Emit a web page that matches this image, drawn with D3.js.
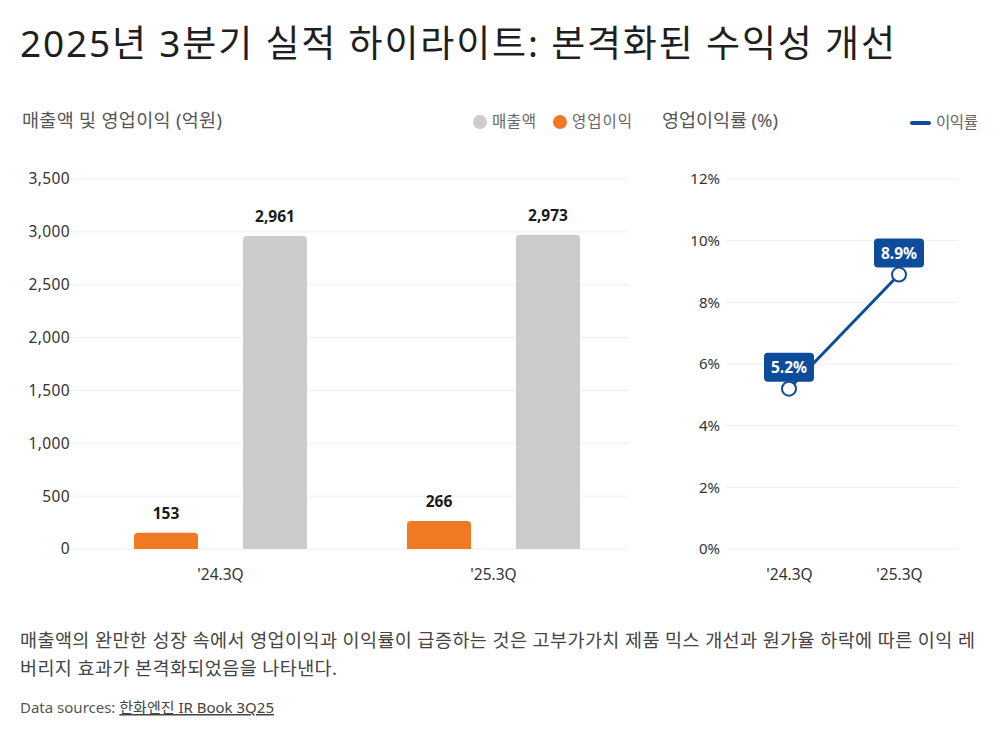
<!DOCTYPE html>
<html><head><meta charset="utf-8">
<script src="https://cdn.jsdelivr.net/npm/d3@7"></script>
<style>
body{margin:0;background:#fff;}
svg{display:block;font-family:'Noto Sans','Noto Sans CJK KR',sans-serif;}
</style></head>
<body><svg id="c" width="1000" height="750"></svg>
<script>
const categories = ["'24.3Q", "'25.3Q"];
const revenue = [2961, 2973];
const operatingProfit = [153, 266];
const margin = [5.2, 8.9];
const barTicks = [0, 500, 1000, 1500, 2000, 2500, 3000, 3500];
const marginTicks = [0, 2, 4, 6, 8, 10, 12];
const seriesNames = ["매출액", "영업이익", "이익률"];
const title = "2025년 3분기 실적 하이라이트: 본격화된 수익성 개선";
const leftTitle = "매출액 및 영업이익 (억원)";
const rightTitle = "영업이익률 (%)";
const noteLines = ["매출액의 완만한 성장 속에서 영업이익과 이익률이 급증하는 것은 고부가가치 제품 믹스 개선과 원가율 하락에 따른 이익 레",
                   "버리지 효과가 본격화되었음을 나타낸다."];
const sourceLabel = "Data sources: ";
const sourceLink = "한화엔진 IR Book 3Q25";

const svg = d3.select("#c");
const FONT = "'Noto Sans','Noto Sans CJK KR',sans-serif";
const ORANGE = "#f07a22", GRAY = "#cccccc", BLUE = "#0d4c9b";

svg.append("text").attr("x", 20).attr("y", 57).attr("font-size", 37).attr("fill", "#1f1f1f")
  .attr("textLength", 875).attr("lengthAdjust", "spacing")
  .text(title);

// ---------- Left chart ----------
const y = d3.scaleLinear().domain([0, 3500]).range([549, 179]);
const x = d3.scaleBand().domain(categories).range([84, 630]).padding(0);
svg.append("g").selectAll("line").data(barTicks).join("line")
  .attr("x1", 62).attr("x2", 628).attr("y1", d => y(d)).attr("y2", d => y(d))
  .attr("stroke", "#eeeeee").attr("stroke-width", 1);
const axL = svg.append("g").attr("transform", "translate(70,0)")
  .call(d3.axisLeft(y).tickValues(barTicks).tickFormat(d3.format(",")).tickSize(0).tickPadding(0));
axL.select(".domain").remove();
axL.selectAll("text").attr("font-size", 15.5).attr("letter-spacing", 0.4).attr("fill", "#333").attr("font-family", FONT);

function topRounded(x0, y0, w, h, r) {
  r = Math.min(r, h, w / 2);
  return `M${x0},${y0 + h}V${y0 + r}Q${x0},${y0} ${x0 + r},${y0}H${x0 + w - r}Q${x0 + w},${y0} ${x0 + w},${y0 + r}V${y0 + h}Z`;
}
const barData = [];
categories.forEach((c, i) => {
  barData.push({ c, key: "op", v: operatingProfit[i], color: ORANGE });
  barData.push({ c, key: "rev", v: revenue[i], color: GRAY });
});
const bw = 64;
const bx = d => x(d.c) + x.bandwidth() / 2 + (d.key === "op" ? -54.5 : 54.5);
svg.append("g").selectAll("path").data(barData).join("path")
  .attr("d", d => topRounded(bx(d) - bw / 2, y(d.v), bw, y(0) - y(d.v), 4))
  .attr("fill", d => d.color);
svg.append("g").selectAll("text").data(barData).join("text")
  .attr("x", bx)
  .attr("y", d => y(d.v) - 14)
  .attr("text-anchor", "middle").attr("font-size", 15.5).attr("font-weight", "bold").attr("fill", "#1a1a1a")
  .text(d => d3.format(",")(d.v));
const axB = svg.append("g").attr("transform", "translate(0,549)")
  .call(d3.axisBottom(x).tickSize(0).tickPadding(0));
axB.select(".domain").remove();
axB.selectAll("text").attr("dy", null).attr("y", 31).attr("font-size", 15.5).attr("fill", "#333").attr("font-family", FONT);

svg.append("text").attr("x", 22).attr("y", 127).attr("font-size", 18.5).attr("fill", "#555")
  .attr("textLength", 200).attr("lengthAdjust", "spacing").text(leftTitle);
const leg = [{ n: seriesNames[0], c: GRAY, x: 480, w: 44 }, { n: seriesNames[1], c: ORANGE, x: 560, w: 60 }];
leg.forEach(l => {
  svg.append("circle").attr("cx", l.x).attr("cy", 122).attr("r", 7).attr("fill", l.c);
  svg.append("text").attr("x", l.x + 12).attr("y", 127).attr("font-size", 15.5).attr("fill", "#666")
    .attr("textLength", l.w).attr("lengthAdjust", "spacing").text(l.n);
});

// ---------- Right chart ----------
const y2 = d3.scaleLinear().domain([0, 12]).range([549, 179]);
const x2 = d3.scalePoint().domain(categories).range([789, 899]);
svg.append("g").selectAll("line").data(marginTicks).join("line")
  .attr("x1", 725).attr("x2", 958).attr("y1", d => y2(d)).attr("y2", d => y2(d))
  .attr("stroke", "#eeeeee");
const axR = svg.append("g").attr("transform", "translate(720,0)")
  .call(d3.axisLeft(y2).tickValues(marginTicks).tickFormat(d => d + "%").tickSize(0).tickPadding(0));
axR.select(".domain").remove();
axR.selectAll("text").attr("font-size", 15).attr("fill", "#333").attr("font-family", FONT);
const axB2 = svg.append("g").attr("transform", "translate(0,549)")
  .call(d3.axisBottom(x2).tickSize(0).tickPadding(0));
axB2.select(".domain").remove();
axB2.selectAll("text").attr("dy", null).attr("y", 31).attr("font-size", 15.5).attr("fill", "#333").attr("font-family", FONT);

const pts = categories.map((c, i) => ({ c, v: margin[i] }));
svg.append("path").datum(pts)
  .attr("d", d3.line().x(d => x2(d.c)).y(d => y2(d.v)))
  .attr("fill", "none").attr("stroke", BLUE).attr("stroke-width", 3);
svg.append("g").selectAll("circle").data(pts).join("circle")
  .attr("cx", d => x2(d.c)).attr("cy", d => y2(d.v)).attr("r", 7)
  .attr("fill", "#fff").attr("stroke", BLUE).attr("stroke-width", 2);
const lab = svg.append("g").selectAll("g").data(pts).join("g")
  .attr("transform", d => `translate(${x2(d.c)},${y2(d.v) - 7})`);
lab.append("rect").attr("x", -25).attr("y", -29).attr("width", 50).attr("height", 29).attr("rx", 4)
  .attr("fill", BLUE);
lab.append("text").attr("x", 0).attr("y", -9).attr("text-anchor", "middle")
  .attr("font-size", 15.5).attr("font-weight", "bold").attr("fill", "#fff").text(d => d.v.toFixed(1) + "%");

svg.append("text").attr("x", 662).attr("y", 127).attr("font-size", 18.5).attr("fill", "#555")
  .attr("textLength", 116).attr("lengthAdjust", "spacing").text(rightTitle);
svg.append("line").attr("x1", 912).attr("x2", 929).attr("y1", 123).attr("y2", 123)
  .attr("stroke", BLUE).attr("stroke-width", 4).attr("stroke-linecap", "round");
svg.append("text").attr("x", 936).attr("y", 128).attr("font-size", 15.5).attr("fill", "#666")
  .attr("textLength", 42).attr("lengthAdjust", "spacing").text(seriesNames[2]);

// ---------- Notes ----------
const noteW = [955, 317];
svg.append("g").selectAll("text").data(noteLines).join("text")
  .attr("x", 20).attr("y", (d, i) => 647 + i * 28).attr("font-size", 18.5).attr("fill", "#444")
  .attr("textLength", (d, i) => noteW[i]).attr("lengthAdjust", "spacing").text(d => d);
const src = svg.append("text").attr("x", 20).attr("y", 713).attr("font-size", 15).attr("fill", "#555");
src.append("tspan").text(sourceLabel);
src.append("tspan").attr("text-decoration", "underline").attr("fill", "#444").text(sourceLink);
</script></body></html>
